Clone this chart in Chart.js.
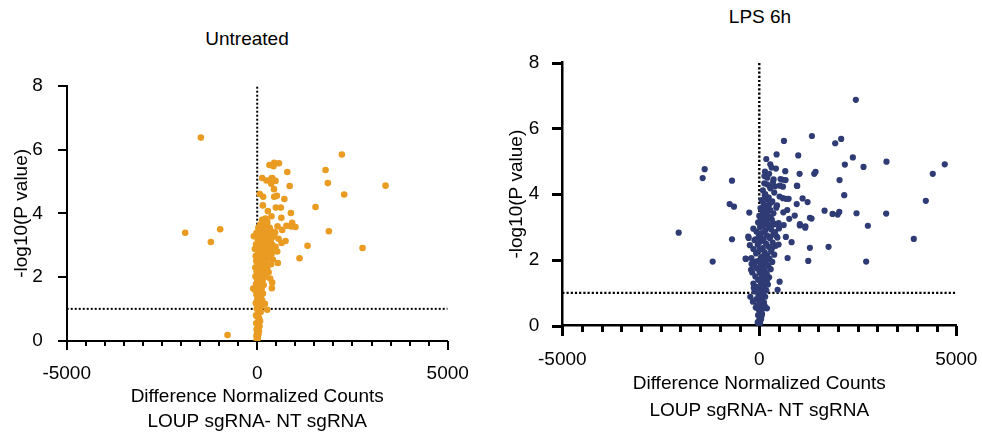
<!DOCTYPE html>
<html>
<head>
<meta charset="utf-8">
<script src="https://cdn.jsdelivr.net/npm/chart.js@4.4.1/dist/chart.umd.min.js"></script>
<style>
    body { margin: 0; background: #fff; }
    #page { position: relative; width: 982px; height: 436px; overflow: hidden; font-family: 'Liberation Sans', Arial, sans-serif; }
    .title { position: absolute; width: 200px; text-align: center; font-size: 19px; line-height: 22px; color: #000; }
    canvas { position: absolute; top: 0; }
    .tick { position: absolute; background: #000; z-index: 5; }
</style>
</head>
<body>
<div id="page">
    <div class="title" style="left:147px; top:28px;">Untreated</div>
    <div class="title" style="left:660px; top:6px;">LPS 6h</div>
    <canvas id="untreatedChart" width="494" height="436" style="left:0"></canvas>
    <canvas id="lpsChart" width="498" height="436" style="left:494px"></canvas>
</div>
<script>
// Data: [difference in normalized counts, -log10(P)]
const untreatedPoints = [
    // outliers
    [-1479, 6.38], [-1890, 3.39], [-1216, 3.10], [-971, 3.50], [-779, 0.18],
    [2222, 5.85], [1794, 5.36], [1855, 4.95], [3368, 4.87], [2283, 4.59], [1531, 4.20],
    [1881, 3.44], [2765, 2.91], [1321, 2.98], [1111, 2.59],
    // upper fan
    [790, 5.30], [852, 4.86], [712, 4.45], [884, 4.01], [918, 3.70], [1005, 3.57], [769, 3.61],
    [892, 3.59], [744, 3.13], [639, 3.07], [542, 2.44], [656, 3.48], [634, 3.86], [490, 4.18],
    [620, 4.18], [516, 4.55], [446, 4.52], [440, 4.76], [481, 5.02], [367, 4.93], [376, 5.10],
    [244, 5.03], [131, 5.11], [394, 5.11], [323, 5.52], [428, 5.48], [446, 5.59], [570, 5.57],
    [68, 4.61], [157, 4.52], [148, 4.25], [279, 4.07], [375, 3.91], [131, 3.80], [218, 3.84],
    [533, 3.59], [420, 3.41], [-89, 3.28], [394, 1.83], [385, 1.65], [201, 1.16], [262, 0.97], [-105, 1.64],
    // middle
    [175, 3.75], [262, 3.74], [44, 3.48], [140, 3.37], [306, 3.37], [219, 3.27], [350, 3.16],
    [437, 3.27], [87, 3.21], [262, 3.08], [394, 3.01], [481, 2.95], [175, 2.85], [437, 2.85],
    [525, 2.80], [376, 2.72], [306, 2.62], [175, 2.53], [367, 2.40], [262, 2.27], [149, 2.74],
    [330, 3.55], [470, 3.40], [560, 3.20], [410, 2.55], [300, 2.15], [220, 2.05], [340, 1.95],
    // spine
    [0, 0.0], [-10, 0.02], [5, 0.05], [15, 0.1], [-20, 0.15], [30, 0.2], [0, 0.25], [45, 0.3],
    [-15, 0.35], [20, 0.4], [60, 0.45], [10, 0.5], [-25, 0.55], [35, 0.6], [75, 0.62], [50, 0.7],
    [0, 0.75], [-30, 0.8], [25, 0.85], [90, 0.9], [60, 0.95], [-10, 1.0], [40, 1.05], [110, 1.08],
    [15, 1.12], [-35, 1.18], [70, 1.22], [130, 1.27], [5, 1.3], [45, 1.35], [95, 1.4], [-20, 1.45],
    [150, 1.48], [30, 1.52], [75, 1.56], [-60, 1.6], [115, 1.62], [10, 1.68], [55, 1.72], [170, 1.75],
    [-30, 1.78], [90, 1.82], [35, 1.86], [140, 1.9], [0, 1.93], [65, 1.97], [200, 2.0], [-45, 2.02],
    [110, 2.05], [25, 2.08], [165, 2.12], [80, 2.15], [-15, 2.18], [230, 2.2], [50, 2.23], [130, 2.26],
    [-50, 2.3], [95, 2.32], [190, 2.35], [15, 2.38], [260, 2.4], [70, 2.43], [150, 2.46], [-25, 2.5],
    [110, 2.52], [220, 2.55], [40, 2.58], [300, 2.6], [180, 2.63], [-40, 2.66], [85, 2.68], [250, 2.7],
    [20, 2.73], [140, 2.76], [330, 2.78], [60, 2.82], [210, 2.85], [-60, 2.88], [100, 2.9], [280, 2.93],
    [30, 2.96], [160, 3.0], [-30, 3.03], [240, 3.05], [75, 3.1], [350, 3.12], [120, 3.15], [10, 3.2],
    [200, 3.22], [290, 3.25], [60, 3.3], [160, 3.33], [-20, 3.38], [250, 3.42], [100, 3.45], [330, 3.5],
    [30, 3.55], [180, 3.6], [80, 3.65], [260, 3.68]
];

const lpsPoints = [
    // outliers
    [-2046, 2.83], [-1386, 4.76], [-1437, 4.49], [-1183, 1.95], [-693, 4.41], [-752, 3.70],
    [-642, 3.62], [-693, 2.63], [-254, 3.44], [-279, 2.71], [-338, 2.03], [-228, 0.88],
    [2451, 6.87], [1336, 5.77], [626, 5.62], [1927, 5.55], [2079, 5.68], [989, 5.18], [440, 5.21],
    [178, 5.07], [2375, 5.12], [3229, 4.99], [4708, 4.91], [2172, 4.90], [2646, 4.83], [4404, 4.62],
    [1023, 4.62], [1395, 4.62], [1429, 4.68], [659, 4.70], [423, 4.78], [279, 4.91], [313, 4.81],
    [144, 4.69], [2037, 4.43], [964, 4.25], [2156, 3.97], [1099, 3.87], [1226, 3.76], [4227, 3.80],
    [1657, 3.50], [1860, 3.40], [1990, 3.38], [2030, 3.46], [2468, 3.42], [3221, 3.41], [2756, 3.04],
    [1285, 3.28], [1327, 3.26], [1031, 3.09], [1166, 2.98], [820, 2.54], [1285, 2.37], [1758, 2.40],
    [3922, 2.64], [718, 2.06], [1243, 1.97], [2713, 1.95], [516, 1.34], [465, 1.09], [194, 0.53],
    [-162, 0.73], [-348, 2.04], [-195, 1.88],
    // middle
    [203, 4.50], [363, 4.45], [540, 4.46], [600, 4.44], [668, 4.43], [127, 4.33], [263, 4.25],
    [400, 4.24], [520, 4.26], [600, 4.23], [955, 4.26], [140, 3.97], [190, 3.91], [515, 3.93],
    [600, 3.88], [680, 3.86], [745, 3.86], [950, 3.70], [200, 3.85], [300, 3.75], [250, 3.68],
    [180, 3.62], [431, 3.59], [50, 3.55], [200, 3.45], [120, 3.35], [290, 3.30], [140, 3.20],
    [710, 3.52], [610, 3.45], [900, 3.35], [760, 3.25], [1030, 3.05], [1170, 3.02], [30, 3.15],
    [80, 3.05], [200, 3.10], [290, 3.05], [370, 3.08], [490, 3.12], [620, 3.06], [-270, 2.67],
    [-100, 2.63], [40, 2.66], [270, 2.70], [440, 2.72], [675, 2.70], [490, 2.47],
    // spine
    [0, 0.02], [20, 0.08], [-15, 0.14], [45, 0.2], [10, 0.26], [-30, 0.32], [70, 0.36], [30, 0.42],
    [-10, 0.48], [95, 0.52], [50, 0.58], [-50, 0.62], [15, 0.67], [120, 0.7], [75, 0.75], [-80, 0.8],
    [35, 0.84], [150, 0.88], [-20, 0.92], [100, 0.96], [55, 1.0], [-120, 1.04], [180, 1.07], [10, 1.1],
    [130, 1.14], [-60, 1.18], [80, 1.22], [220, 1.25], [-150, 1.28], [40, 1.32], [160, 1.36], [-30, 1.4],
    [110, 1.44], [250, 1.47], [-100, 1.5], [60, 1.54], [190, 1.58], [-180, 1.62], [5, 1.65], [140, 1.68],
    [290, 1.72], [-60, 1.75], [90, 1.78], [230, 1.82], [-130, 1.85], [30, 1.88], [170, 1.91], [330, 1.94],
    [-20, 1.97], [120, 2.0], [260, 2.03], [-200, 2.06], [60, 2.1], [200, 2.13], [380, 2.16], [-80, 2.2],
    [140, 2.23], [300, 2.26], [0, 2.3], [-150, 2.33], [90, 2.36], [240, 2.4], [420, 2.43], [-40, 2.46],
    [170, 2.5], [340, 2.53], [30, 2.56], [-120, 2.6], [110, 2.63], [270, 2.66], [460, 2.68], [-10, 2.72],
    [190, 2.75], [360, 2.78], [60, 2.82], [-70, 2.86], [150, 2.9], [300, 2.93], [500, 2.96], [20, 3.0],
    [230, 3.03], [100, 3.07], [400, 3.1], [-30, 3.14], [170, 3.18], [320, 3.22], [70, 3.26], [240, 3.3],
    [0, 3.34], [140, 3.38], [360, 3.42], [90, 3.48], [280, 3.52], [30, 3.58], [190, 3.62], [450, 3.66],
    [110, 3.72], [330, 3.78], [60, 3.82], [240, 3.9], [150, 4.0], [380, 4.05], [90, 4.12], [280, 4.18],
    [200, 4.3], [350, 4.38], [130, 4.55], [250, 4.62],
    [-40, 0.1], [60, 0.3], [-90, 0.55], [140, 0.6], [-140, 1.15], [200, 1.4], [-210, 1.7], [-90, 1.95],
    [320, 2.35], [-240, 2.45], [400, 2.85], [-150, 2.95]
];

const xRange = [-5000, 5000];
const xLabelTicks = [-5000, 0, 5000];
const yRange = [0, 8];
const pCutoff = 1;

const xTitle = ['Difference Normalized Counts', 'LOUP sgRNA- NT sgRNA'];
const yTitle = '-log10(P value)';

Chart.defaults.font.family = "'Liberation Sans', Arial, sans-serif";
Chart.defaults.font.size = 19;
Chart.defaults.color = '#000';

// tick marks as small page elements, placed from the chart's own scales
function addTickMarks(chart, offsetLeft, s) {
    const page = document.getElementById('page');
    const xs = chart.scales.x;
    const ys = chart.scales.y;
    const w = s.tickWidth;
    const mark = (left, top, width, height) => {
        const d = document.createElement('div');
        d.className = 'tick';
        d.style.left = left + 'px';
        d.style.top = top + 'px';
        d.style.width = width + 'px';
        d.style.height = height + 'px';
        page.appendChild(d);
    };
    xs.ticks.forEach(t => {
        const px = offsetLeft + Math.round(xs.getPixelForValue(t.value));
        const len = xLabelTicks.includes(t.value) ? s.majorLen : s.xTick;
        mark(px - w / 2, Math.round(xs.top), w, len);
    });
    ys.ticks.forEach(t => {
        const py = Math.round(ys.getPixelForValue(t.value));
        const left = offsetLeft + Math.round(xs.left);
        mark(left - s.yTick, py - w / 2, s.yTick, w);
    });
}

function makeChart(id, offsetLeft, points, color, s) {
    const ctx = document.getElementById(id).getContext('2d');
    const chart = new Chart(ctx, {
        type: 'scatter',
        data: {
            datasets: [
                {
                    data: points.map(p => ({ x: p[0], y: p[1] })),
                    backgroundColor: color,
                    borderWidth: 0,
                    pointRadius: s.radius,
                    pointHoverRadius: s.radius,
                    order: 1
                },
                {
                    data: [{ x: xRange[0], y: pCutoff }, { x: xRange[1], y: pCutoff }],
                    showLine: true,
                    pointRadius: 0,
                    borderColor: '#000',
                    borderWidth: s.dotWidth,
                    borderDash: s.dash,
                    order: 2
                },
                {
                    data: [{ x: 0, y: yRange[0] }, { x: 0, y: yRange[1] }],
                    showLine: true,
                    pointRadius: 0,
                    borderColor: '#000',
                    borderWidth: s.dotWidth,
                    borderDash: s.dash,
                    order: 2
                }
            ]
        },
        options: {
            responsive: false,
            animation: false,
            devicePixelRatio: 1,
            layout: { padding: s.padding },
            plugins: {
                legend: { display: false },
                tooltip: { enabled: false }
            },
            scales: {
                x: {
                    type: 'linear',
                    min: xRange[0],
                    max: xRange[1],
                    border: { display: true, color: '#000', width: s.axisWidth },
                    grid: { display: false },
                    ticks: {
                        stepSize: 500,
                        maxTicksLimit: 30,
                        autoSkip: false,
                        maxRotation: 0,
                        padding: s.xTick + s.xPad,
                        callback: v => xLabelTicks.includes(v) ? String(v) : ''
                    },
                    title: {
                        display: true,
                        text: xTitle,
                        font: { size: 19, lineHeight: s.xTitleLH },
                        padding: { top: 0, bottom: s.xTitlePad }
                    },
                    afterFit: scale => { scale.height = s.xHeight; }
                },
                y: {
                    min: yRange[0],
                    max: yRange[1],
                    border: { display: true, color: '#000', width: s.axisWidth },
                    grid: { display: false },
                    ticks: { stepSize: 2, padding: s.yTick + s.yPad },
                    title: {
                        display: true,
                        text: yTitle,
                        font: { size: 19 },
                        padding: { top: s.yTitlePad, bottom: 0 }
                    },
                    afterFit: scale => { scale.width = s.yWidth; }
                }
            }
        }
    });
    addTickMarks(chart, offsetLeft, s);
    return chart;
}

makeChart('untreatedChart', 0, untreatedPoints, '#E99B22', {
    radius: 3.3, dotWidth: 2, dash: [2, 2], axisWidth: 2, tickWidth: 2,
    padding: { top: 86, right: 46.3, left: 0, bottom: 0 },
    xHeight: 95.3, yWidth: 66.7, xTick: 5, majorLen: 9, yTick: 9,
    xPad: 8.6, yPad: 7, xTitleLH: 1.35, xTitlePad: 1, yTitlePad: 10.6
});

makeChart('lpsChart', 494, lpsPoints, '#2E3B74', {
    radius: 3.1, dotWidth: 2.4, dash: [2.2, 2], axisWidth: 2.5, tickWidth: 3,
    padding: { top: 62.7, right: 35.7, left: 0, bottom: 0 },
    xHeight: 110.3, yWidth: 68.3, xTick: 6, majorLen: 10, yTick: 10,
    xPad: 8.6, yPad: 5, xTitleLH: 1.4, xTitlePad: 12, yTitlePad: 11.1
});
</script>
</body>
</html>
